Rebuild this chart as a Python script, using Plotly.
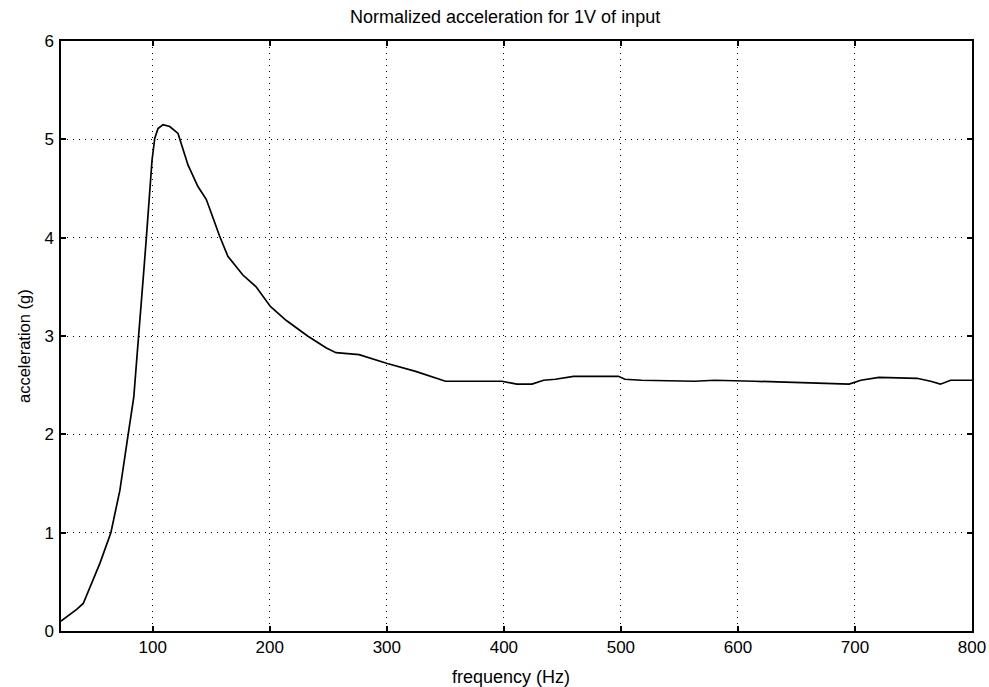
import plotly.graph_objects as go

# Data
freq_hz = [21.6, 24, 30, 35, 40.6, 47.8, 54.9, 64.2, 71.9, 79, 83.8, 86.9, 89.8, 92.6,
           94.6, 97.4, 99.4, 101.7, 104.5, 108.8, 114.5, 121.6, 125.8, 130.1, 138.6,
           145.7, 150, 157, 164.2, 177, 188.3, 200.5, 213.9, 232.3, 248, 256.5, 276.3,
           300.4, 324.6, 350.1, 375, 398.4, 411, 424, 434, 444, 459.5, 497.8, 503.5,
           517.6, 563, 580, 614, 668, 695, 705, 720.5, 753, 764.6, 773, 781.7, 800]
accel_g = [0.10, 0.12, 0.17, 0.22, 0.28, 0.49, 0.69, 1.0, 1.43, 2.0, 2.38, 2.85, 3.25, 3.70,
           4.01, 4.50, 4.79, 5.01, 5.11, 5.15, 5.13, 5.06, 4.89, 4.74, 4.52,
           4.39, 4.25, 4.02, 3.81, 3.62, 3.50, 3.30, 3.16, 3.0, 2.88, 2.83, 2.81,
           2.72, 2.64, 2.54, 2.54, 2.54, 2.51, 2.51, 2.55, 2.56, 2.59, 2.59, 2.56,
           2.55, 2.54, 2.55, 2.54, 2.52, 2.51, 2.55, 2.58, 2.57, 2.54, 2.51, 2.55, 2.55]

x_ticks = [100, 200, 300, 400, 500, 600, 700, 800]
y_ticks = [0, 1, 2, 3, 4, 5, 6]

title_text = "Normalized acceleration for 1V of input"
x_label = "frequency (Hz)"
y_label = "acceleration (g)"

FONT = "Liberation Sans, Arial, sans-serif"

fig = go.Figure()
fig.add_trace(go.Scatter(x=freq_hz, y=accel_g, mode="lines",
                         line=dict(color="black", width=1.7), showlegend=False,
                         hoverinfo="skip"))

axis_common = dict(
    showline=True, linecolor="black", linewidth=1.5, mirror="ticks",
    ticks="inside", ticklen=5, tickwidth=1.5, tickcolor="black",
    showgrid=True, gridcolor="black", gridwidth=1.2, griddash="1px,5px",
    zeroline=False, tickfont=dict(family=FONT, size=17, color="black"),
    automargin=False,
)

fig.update_layout(
    width=989, height=687,
    margin=dict(l=61, r=17, t=41, b=56),
    paper_bgcolor="white", plot_bgcolor="white",
    font=dict(family=FONT, color="black"),
    xaxis=dict(range=[21.6, 800], tickvals=x_ticks, **axis_common),
    yaxis=dict(range=[0, 6], tickvals=y_ticks, ticklabelstandoff=2, **axis_common),
    annotations=[
        dict(text=title_text, x=(504.5 - 61) / 911, y=1, xref="paper", yref="paper",
             xanchor="center", yanchor="middle", yshift=24, showarrow=False,
             font=dict(family=FONT, size=18, color="black")),
        dict(text=x_label, x=(511 - 61) / 911, y=0, xref="paper", yref="paper",
             xanchor="center", yanchor="middle", yshift=-46, showarrow=False,
             font=dict(family=FONT, size=18, color="black")),
        dict(text=y_label, x=0, y=0.5, xref="paper", yref="paper",
             xanchor="center", yanchor="middle", xshift=-37, yshift=-10, textangle=-90,
             showarrow=False, font=dict(family=FONT, size=16.5, color="black")),
    ],
)

# remove the default 8px page margin so the figure fills the window exactly
fig.write_html("out.html", config={"displayModeBar": False},
               post_script="document.body.style.margin='0';document.body.style.overflow='hidden';")
